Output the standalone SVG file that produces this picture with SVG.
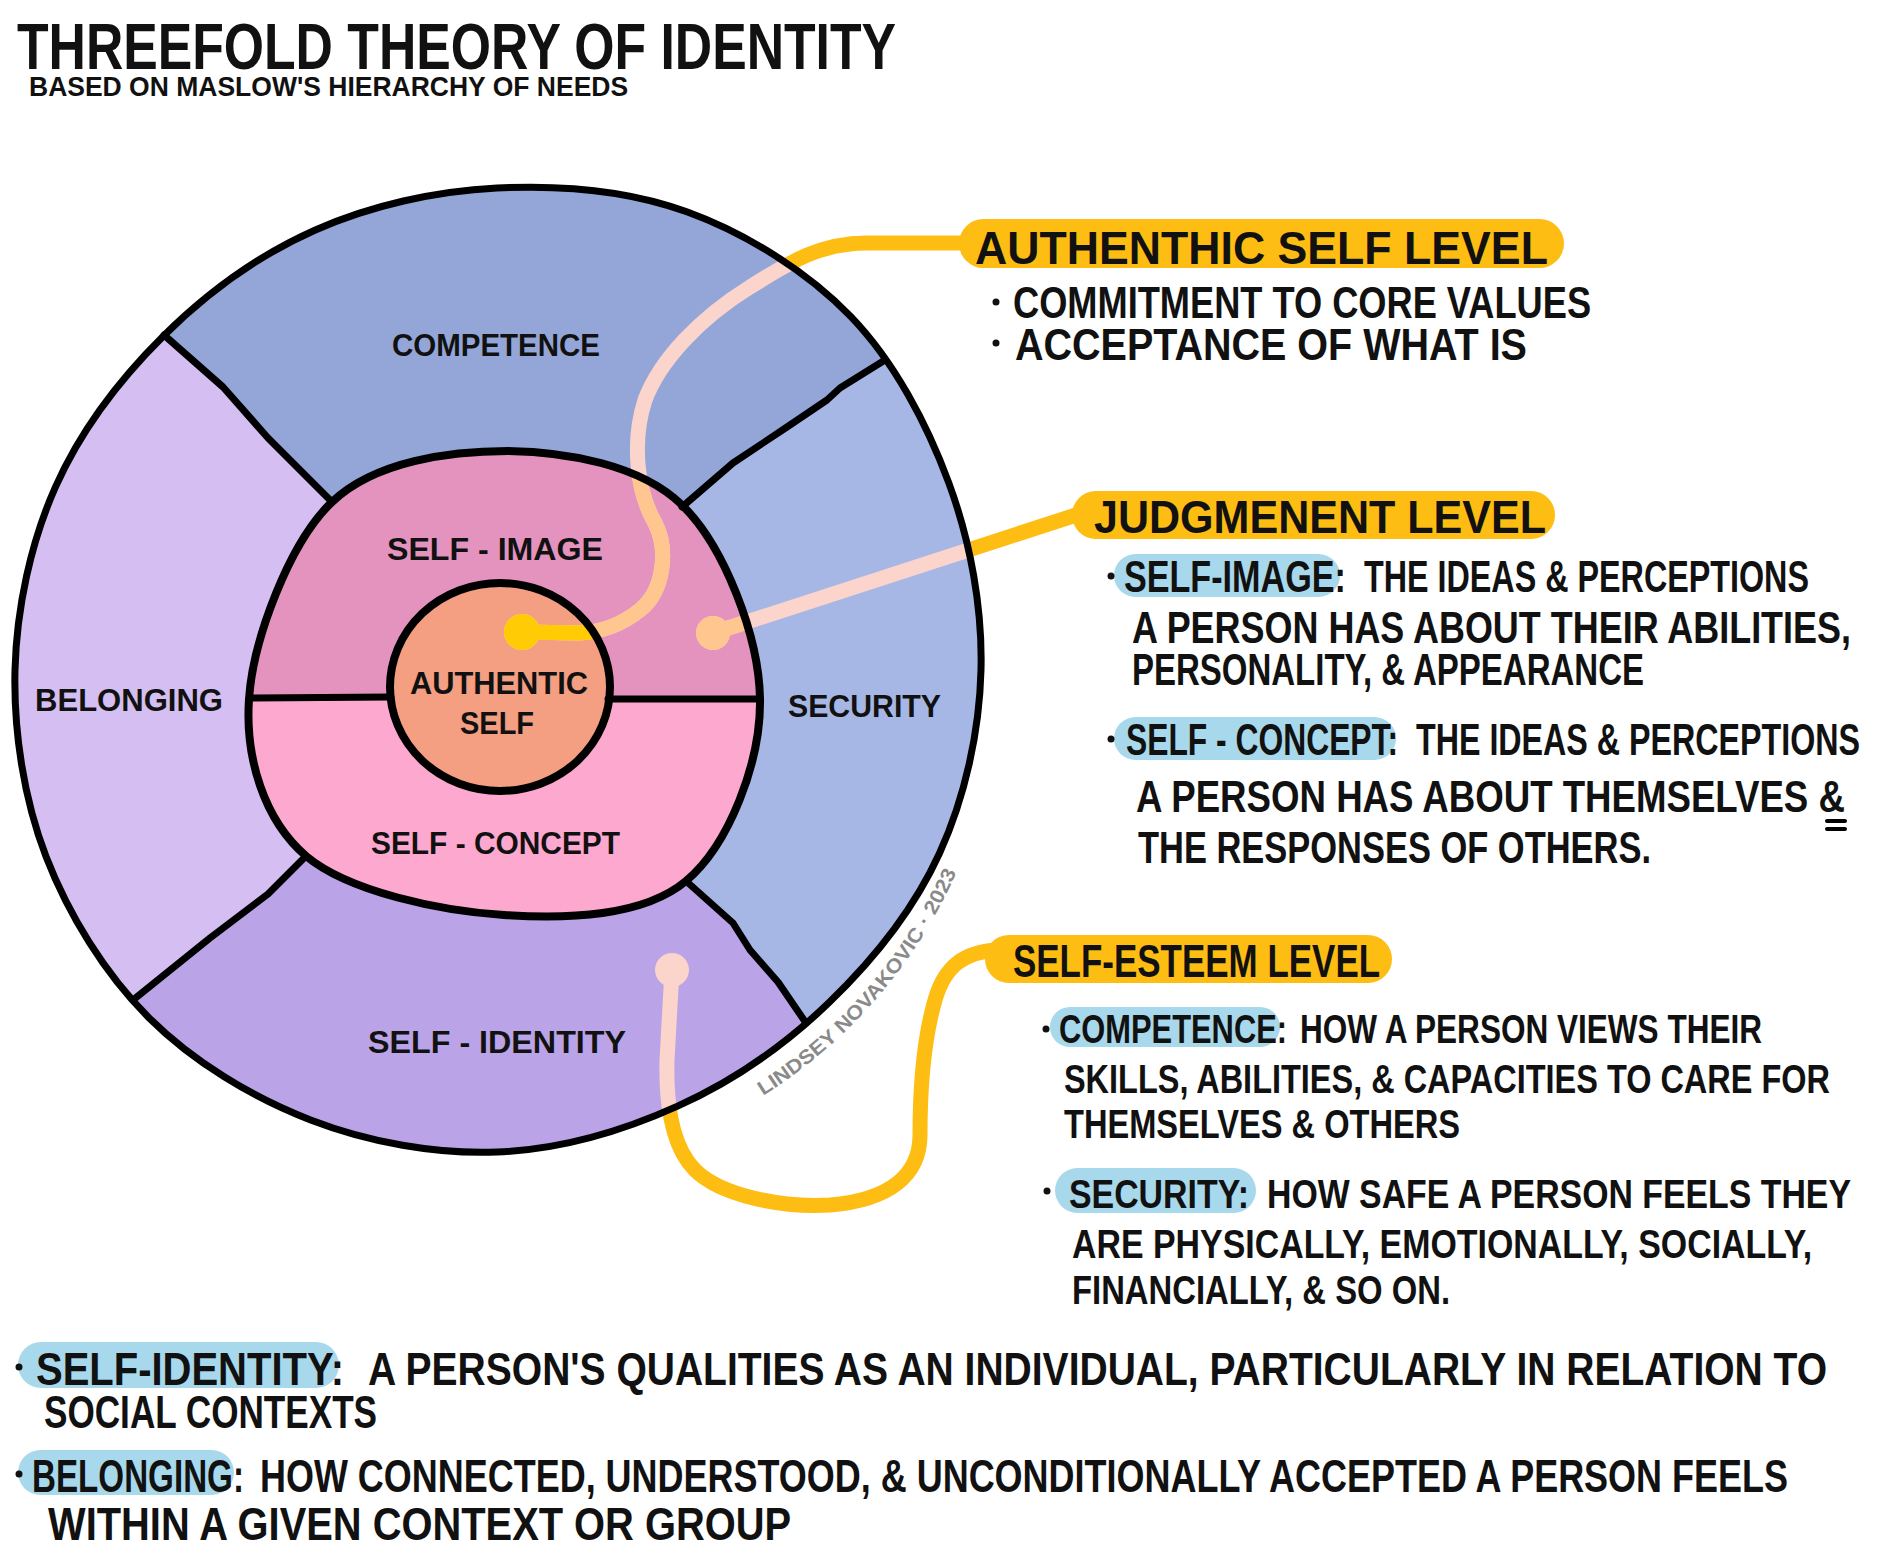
<svg xmlns="http://www.w3.org/2000/svg" xmlns:xlink="http://www.w3.org/1999/xlink" width="1879" height="1565" viewBox="0 0 1879 1565">
<style>
text{font-family:"Liberation Sans","Arial",sans-serif;font-weight:700;fill:#111}
.title{font-size:64px}
.sub{font-size:28px}
.lbl{font-size:32px}
.pilltxt{font-size:46px}
.b44{font-size:44px}
.b40{font-size:40px}
.b46{font-size:46px}
.wm{font-size:20px;fill:#8a8a8a}
.pill{fill:#FDBD12}
.hl{fill:#A8D8EB}
.ol{fill:none;stroke:#000;stroke-width:7;stroke-linecap:round;stroke-linejoin:round}
.conn{fill:none;stroke:currentColor;stroke-width:15;stroke-linecap:round;stroke-linejoin:round}
.dot{fill:currentColor}
.bul{fill:#111}
</style>
<defs>
<clipPath id="cOuter"><path id="outerShape" d="M497,188 C559,184.9 627.9,190.3 686.8,211.7 C745.7,233.1 806.9,271.2 850.6,316.4 C894.3,361.6 927.1,424 948.8,482.9 C970.5,541.8 982.6,608.3 981,670 C979.5,731.7 964.8,797.9 939.5,853.3 C914.2,908.7 873,960.2 829.3,1002.3 C785.7,1044.4 733,1081.2 677.6,1106.1 C622.2,1131.1 558.2,1149.7 497,1152 C435.8,1154.3 368.6,1142.3 310.6,1119.9 C252.6,1097.6 193.2,1061.8 149.1,1017.9 C105,974 68.5,914.8 46.1,856.8 C23.8,798.8 13.5,731.6 15,670 C16.6,608.4 30.7,542.7 55.4,487.1 C80.1,431.5 120,379 163.2,336.2 C206.4,293.4 259.2,254.9 314.8,230.2 C370.4,205.5 435,191.1 497,188 Z"/></clipPath>
<clipPath id="cMiddle"><path id="midShape" d="M508,451 C566,452 640,464 682,505 C724,546 759,636 760,699 C761,762 729,845 686,881 C643,917 567,919 504,915 C441,911 349,892 306,856 C264,820 245,758 249,699 C253,640 289,543 332,502 C375,461 450,451 508,451 Z"/></clipPath>
<clipPath id="cInner"><ellipse cx="500" cy="687" rx="110" ry="104"/></clipPath>
<mask id="mOutside" maskUnits="userSpaceOnUse" x="0" y="0" width="1879" height="1565">
<rect width="1879" height="1565" fill="#fff"/>
<use xlink:href="#outerShape" href="#outerShape" fill="#000"/>
</mask>
<path id="wmArc" d="M763,1095.7 A502,502 0 0 0 974.4,825.1"/>
</defs>
<rect width="1879" height="1565" fill="#fff"/>

<g id="title">
<text class="title" x="17" y="69" transform="matrix(0.805 0 0 1 3.3 0)" textLength="1092" lengthAdjust="spacingAndGlyphs">THREEFOLD THEORY OF IDENTITY</text>
<text class="sub" x="29" y="96" transform="matrix(0.945 0 0 1 1.6 0)" textLength="634" lengthAdjust="spacingAndGlyphs">BASED ON MASLOW'S HIERARCHY OF NEEDS</text>
</g>

<g id="wheel-fills" clip-path="url(#cOuter)">
<path id="seg-competence" fill="#94A6D8" d="M505,684 L332,502 L268,438 L223,387 L163,335 L100,270 L100,150 L960,150 L960,312 L885,360 L840,388 L827,400 L787,427 L733,463 L682,507 Z"/>
<path id="seg-security" fill="#A7B7E5" d="M505,684 L682,507 L733,463 L787,427 L827,400 L840,388 L885,360 L960,312 L1000,312 L1000,1090 L850,1090 L806,1024 L778,982 L750,950 L733,923 L686,881 Z"/>
<path id="seg-self-identity" fill="#BBA3E7" d="M505,684 L686,881 L733,923 L750,950 L778,982 L806,1024 L850,1090 L850,1200 L60,1200 L60,1060 L132,1001 L210,938 L268,894 L306,856 Z"/>
<path id="seg-belonging" fill="#D4BEF2" d="M505,684 L306,856 L268,894 L210,938 L132,1001 L60,1060 L0,1060 L0,270 L100,270 L163,335 L223,387 L268,438 L332,502 Z"/>
</g>
<g id="mid-fills">
<g id="seg-self-image"><use xlink:href="#midShape" href="#midShape" fill="#E493BE"/></g>
<g id="seg-self-concept" clip-path="url(#cMiddle)"><rect x="230" y="698" width="560" height="240" fill="#FDA8CE"/></g>
</g>
<g id="seg-authentic"><ellipse cx="500" cy="687" rx="110" ry="104" fill="#F49E82"/></g>

<g id="connectors">
<g color="#FDBD12" mask="url(#mOutside)">
<g id="conn-base">
<path id="conn-authentic" class="conn" d="M962,243 L867,243 C820,243 790,262 750,287 C700,318 660,360 645,400 C632,440 636,490 655,523 C668,548 665,590 640,610 C620,626 600,632 580,633 L522,632"/>
<circle class="dot" cx="522" cy="632" r="18"/>
<path id="conn-judgement" class="conn" d="M1076,515 L713,633"/>
<circle class="dot" cx="713" cy="633" r="17"/>
<path id="conn-esteem" class="conn" d="M997,950 C965,952 945,965 935,1000 C922,1045 920,1100 920,1135 C920,1175 890,1200 830,1205 C780,1208 720,1195 695,1170 C670,1145 666,1100 667,1060 L672,970"/>
<circle class="dot" cx="672" cy="970" r="17"/>
</g>
</g>
<use xlink:href="#conn-base" href="#conn-base" color="#FBD4CB" clip-path="url(#cOuter)"/>
<use xlink:href="#conn-base" href="#conn-base" color="#FFC78F" clip-path="url(#cMiddle)"/>
<use xlink:href="#conn-base" href="#conn-base" color="#FFCB05" clip-path="url(#cInner)"/>
</g>

<g id="wheel-outlines">
<use xlink:href="#outerShape" href="#outerShape" class="ol"/>
<path class="ol" d="M332,502 L268,438 L223,387 L164,335"/>
<path class="ol" d="M682,507 L733,463 L787,427 L827,400 L840,388 L885,360"/>
<path class="ol" d="M686,881 L733,923 L750,950 L778,982 L806,1023"/>
<path class="ol" d="M306,856 L268,894 L210,938 L133,1000"/>
<use xlink:href="#midShape" href="#midShape" class="ol" style="stroke-width:8"/>
<path class="ol" d="M251,698 L391,697"/>
<path class="ol" d="M608,699 L760,699"/>
<ellipse class="ol" cx="500" cy="687" rx="110" ry="104" style="stroke-width:8"/>
</g>

<g id="wheel-labels">
<text class="lbl" x="392" y="356" textLength="208" lengthAdjust="spacingAndGlyphs">COMPETENCE</text>
<text class="lbl" x="387" y="560" textLength="216" lengthAdjust="spacingAndGlyphs">SELF - IMAGE</text>
<text class="lbl" x="410" y="694" textLength="178" lengthAdjust="spacingAndGlyphs">AUTHENTIC</text>
<text class="lbl" x="460" y="734" textLength="74" lengthAdjust="spacingAndGlyphs">SELF</text>
<text class="lbl" x="35" y="711" textLength="188" lengthAdjust="spacingAndGlyphs">BELONGING</text>
<text class="lbl" x="788" y="717" textLength="153" lengthAdjust="spacingAndGlyphs">SECURITY</text>
<text class="lbl" x="371" y="854" textLength="249" lengthAdjust="spacingAndGlyphs">SELF - CONCEPT</text>
<text class="lbl" x="368" y="1053" textLength="258" lengthAdjust="spacingAndGlyphs">SELF - IDENTITY</text>
<text class="wm"><textPath xlink:href="#wmArc" href="#wmArc" textLength="300" lengthAdjust="spacingAndGlyphs">LINDSEY NOVAKOVIC · 2023</textPath></text>
</g>

<g id="authentic-level">
<rect class="pill" x="959" y="219" width="605" height="49" rx="24.5"/>
<text class="pilltxt" x="975" y="264" transform="matrix(0.971 0 0 1 28.3 0)" textLength="590" lengthAdjust="spacingAndGlyphs">AUTHENTHIC SELF LEVEL</text>
<circle class="bul" cx="996" cy="302" r="3.5"/>
<text class="b44" x="1013" y="318" transform="matrix(0.8187 0 0 1 183.7 0)" textLength="706" lengthAdjust="spacingAndGlyphs">COMMITMENT TO CORE VALUES</text>
<circle class="bul" cx="996" cy="343" r="3.5"/>
<text class="b44" x="1015" y="360" transform="matrix(0.8873 0 0 1 114.4 0)" textLength="577" lengthAdjust="spacingAndGlyphs">ACCEPTANCE OF WHAT IS</text>
</g>

<g id="judgement-level">
<rect class="pill" x="1072" y="491" width="483" height="48" rx="24"/>
<text class="pilltxt" x="1094" y="533" transform="matrix(0.936 0 0 1 70 0)" textLength="483" lengthAdjust="spacingAndGlyphs">JUDGMENENT LEVEL</text>
<rect class="hl" x="1114" y="554" width="226" height="43" rx="21.5"/>
<circle class="bul" cx="1111" cy="576" r="3.5"/>
<text class="b44" x="1124" y="592" transform="matrix(0.7762 0 0 1 251.5 0)" textLength="286" lengthAdjust="spacingAndGlyphs">SELF-IMAGE:</text>
<text class="b44" x="1364" y="592" transform="matrix(0.7343 0 0 1 362.4 0)" textLength="606" lengthAdjust="spacingAndGlyphs">THE IDEAS &amp; PERCEPTIONS</text>
<text class="b44" x="1132" y="643" transform="matrix(0.8124 0 0 1 212.4 0)" textLength="885" lengthAdjust="spacingAndGlyphs">A PERSON HAS ABOUT THEIR ABILITIES,</text>
<text class="b44" x="1132" y="685" transform="matrix(0.7431 0 0 1 290.8 0)" textLength="689" lengthAdjust="spacingAndGlyphs">PERSONALITY, &amp; APPEARANCE</text>
<rect class="hl" x="1114" y="717" width="282" height="43" rx="21.5"/>
<circle class="bul" cx="1111" cy="739" r="3.5"/>
<text class="b44" x="1126" y="755" transform="matrix(0.7139 0 0 1 322.2 0)" textLength="381" lengthAdjust="spacingAndGlyphs">SELF - CONCEPT:</text>
<text class="b44" x="1416" y="755" transform="matrix(0.7327 0 0 1 378.5 0)" textLength="606" lengthAdjust="spacingAndGlyphs">THE IDEAS &amp; PERCEPTIONS</text>
<text class="b44" x="1136" y="812" transform="matrix(0.8263 0 0 1 197.3 0)" textLength="858" lengthAdjust="spacingAndGlyphs">A PERSON HAS ABOUT THEMSELVES &amp;</text>
<path class="ol" style="stroke-width:4" d="M1827,821 L1845,821 M1827,829 L1845,829"/>
<text class="b44" x="1138" y="863" transform="matrix(0.7832 0 0 1 246.7 0)" textLength="655" lengthAdjust="spacingAndGlyphs">THE RESPONSES OF OTHERS.</text>
</g>

<g id="self-esteem-level">
<rect class="pill" x="985" y="935" width="407" height="48" rx="24"/>
<text class="pilltxt" x="1013" y="977" transform="matrix(0.76 0 0 1 243.1 0)" textLength="483" lengthAdjust="spacingAndGlyphs">SELF-ESTEEM LEVEL</text>
<rect class="hl" x="1050" y="1007" width="230" height="40" rx="20"/>
<circle class="bul" cx="1046" cy="1029" r="3.5"/>
<text class="b40" x="1059" y="1043" transform="matrix(0.7703 0 0 1 243.3 0)" textLength="296" lengthAdjust="spacingAndGlyphs">COMPETENCE:</text>
<text class="b40" x="1300" y="1043" transform="matrix(0.7844 0 0 1 280.3 0)" textLength="589" lengthAdjust="spacingAndGlyphs">HOW A PERSON VIEWS THEIR</text>
<text class="b40" x="1064" y="1093" transform="matrix(0.8072 0 0 1 205.1 0)" textLength="949" lengthAdjust="spacingAndGlyphs">SKILLS, ABILITIES, &amp; CAPACITIES TO CARE FOR</text>
<text class="b40" x="1064" y="1138" transform="matrix(0.8098 0 0 1 202.4 0)" textLength="489" lengthAdjust="spacingAndGlyphs">THEMSELVES &amp; OTHERS</text>
<rect class="hl" x="1055" y="1168" width="201" height="45" rx="22.5"/>
<circle class="bul" cx="1047" cy="1191" r="3.5"/>
<text class="b40" x="1069" y="1208" transform="matrix(0.8333 0 0 1 178.2 0)" textLength="216" lengthAdjust="spacingAndGlyphs">SECURITY:</text>
<text class="b40" x="1267" y="1208" transform="matrix(0.8427 0 0 1 199.3 0)" textLength="693" lengthAdjust="spacingAndGlyphs">HOW SAFE A PERSON FEELS THEY</text>
<text class="b40" x="1072" y="1258" transform="matrix(0.8241 0 0 1 188.6 0)" textLength="898" lengthAdjust="spacingAndGlyphs">ARE PHYSICALLY, EMOTIONALLY, SOCIALLY,</text>
<text class="b40" x="1072" y="1304" transform="matrix(0.7875 0 0 1 227.8 0)" textLength="480" lengthAdjust="spacingAndGlyphs">FINANCIALLY, &amp; SO ON.</text>
</g>

<g id="definitions">
<rect class="hl" x="18" y="1342" width="321" height="46" rx="23"/>
<circle class="bul" cx="19" cy="1367" r="3.5"/>
<text class="b46" x="36" y="1385" transform="matrix(0.8603 0 0 1 5 0)" textLength="358" lengthAdjust="spacingAndGlyphs">SELF-IDENTITY:</text>
<text class="b46" x="368" y="1385" transform="matrix(0.8395 0 0 1 59.1 0)" textLength="1738" lengthAdjust="spacingAndGlyphs">A PERSON'S QUALITIES AS AN INDIVIDUAL, PARTICULARLY IN RELATION TO</text>
<text class="b46" x="44" y="1428" transform="matrix(0.762 0 0 1 10.5 0)" textLength="437" lengthAdjust="spacingAndGlyphs">SOCIAL CONTEXTS</text>
<rect class="hl" x="18" y="1450" width="216" height="45" rx="22.5"/>
<circle class="bul" cx="19" cy="1474" r="3.5"/>
<text class="b46" x="32" y="1492" transform="matrix(0.7211 0 0 1 8.9 0)" textLength="294" lengthAdjust="spacingAndGlyphs">BELONGING:</text>
<text class="b46" x="260" y="1492" transform="matrix(0.7776 0 0 1 57.8 0)" textLength="1965" lengthAdjust="spacingAndGlyphs">HOW CONNECTED, UNDERSTOOD, &amp; UNCONDITIONALLY ACCEPTED A PERSON FEELS</text>
<text class="b46" x="48" y="1540" transform="matrix(0.863 0 0 1 6.6 0)" textLength="861" lengthAdjust="spacingAndGlyphs">WITHIN A GIVEN CONTEXT OR GROUP</text>
</g>
</svg>
